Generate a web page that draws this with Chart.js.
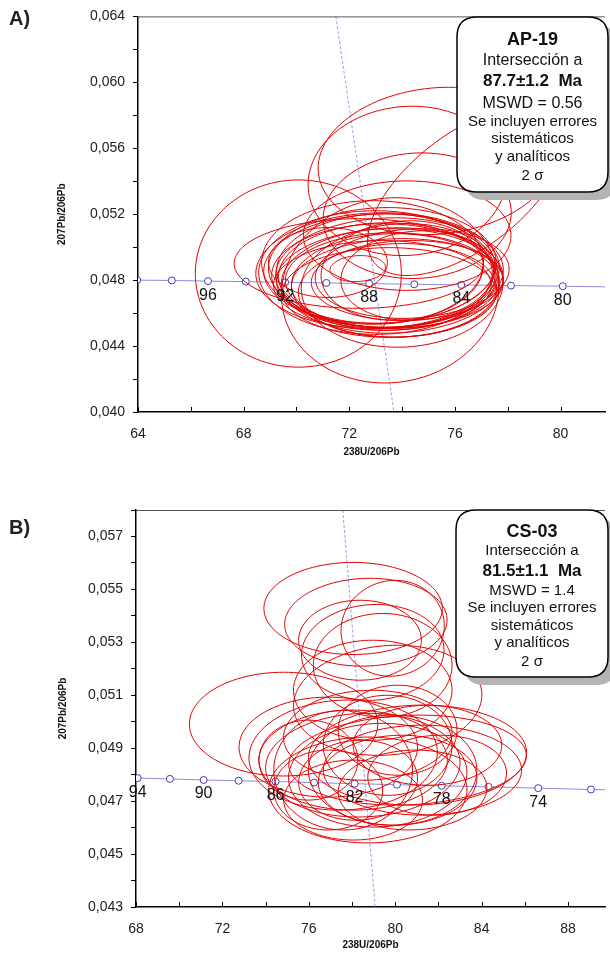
<!DOCTYPE html>
<html lang="es">
<head>
  <meta charset="utf-8">
  <title>Concordia Tera-Wasserburg AP-19 / CS-03</title>
  <script src="https://cdn.jsdelivr.net/npm/chart.js"></script>
  <style>
    body { margin: 0; background: #fff; }
    .wrap { position: relative; width: 610px; height: 954px; overflow: hidden; }
    canvas { position: absolute; left: 0; }
    #chartA { top: 0; }
    #chartB { top: 480px; }
  </style>
</head>
<body>
  <div class="wrap">
    <canvas id="chartA" width="610" height="470"></canvas>
    <canvas id="chartB" width="610" height="474"></canvas>
  </div>

  <script>
    // --- Panel A: AP-19 ---
    const concAgesA = [100, 98, 96, 94, 92, 90, 88, 86, 84, 82, 80, 78];
    const concXA = [63.97, 65.28, 66.65, 68.08, 69.57, 71.13, 72.75, 74.46, 76.24, 78.12, 80.08, 82.15];
    const concYA = [0.04800, 0.04798, 0.04794, 0.04791, 0.04787, 0.04783, 0.04779, 0.04775, 0.04771, 0.04767, 0.04763, 0.04758];
    const ageLabelsA = [96, 92, 88, 84, 80];
    const discXA = [71.49, 73.69];
    const discYA = [0.064, 0.040];

    // elipses de error (centro, semiejes, correlación)
    const ellCxA = [70.07, 73.55, 75.32, 74.19, 74.57, 74.19, 76.44,
      72.36, 73.07, 72.99, 73.14, 73.29, 73.44, 73.63, 73.82, 72.88, 73.25, 73.37, 73.52,
      73.44, 73.63, 73.74, 73.82, 74.00, 73.25, 73.52, 74.19, 74.38, 74.00, 74.57, 72.32, 71.19];
    const ellCyA = [0.04840, 0.04738, 0.05523, 0.05402, 0.05191, 0.05070, 0.05342,
      0.04901, 0.04858, 0.04846, 0.04870, 0.04828, 0.04810, 0.04798, 0.04780, 0.04907, 0.04889, 0.04858, 0.04846,
      0.04822, 0.04798, 0.04768, 0.04738, 0.04768, 0.04768, 0.04725, 0.04798, 0.04840, 0.04858, 0.04828, 0.04870, 0.04907];
    const ellSxA = [3.90, 4.12, 4.50, 3.75, 3.56, 3.93, 3.75,
      4.72, 4.61, 4.42, 4.38, 4.23, 4.20, 4.05, 4.01, 4.20, 4.31, 4.12, 4.31,
      4.12, 4.20, 3.93, 3.75, 3.82, 4.12, 4.05, 3.63, 3.67, 3.07, 2.89, 1.05, 2.25];
    const ellSyA = [0.00568, 0.00562, 0.00447, 0.00453, 0.00381, 0.00332, 0.00514,
      0.00272, 0.00351, 0.00375, 0.00332, 0.00314, 0.00302, 0.00290, 0.00272, 0.00375, 0.00351, 0.00345, 0.00332,
      0.00326, 0.00320, 0.00314, 0.00284, 0.00375, 0.00272, 0.00272, 0.00242, 0.00272, 0.00302, 0.00272, 0.00079, 0.00212];
    const ellRhoA = [0, 0.05, 0.1, 0.05, 0.05, 0, 0.6,
      0, 0.05, 0, 0.05, 0, 0.05, 0, 0.05, 0, 0.05, 0, 0.05,
      0, 0.05, 0, 0.05, 0.05, 0, 0, 0.05, 0.1, 0.1, 0.1, 0.1, 0];
    const boxLinesA = ['AP-19', 'Intersección a', '87.7±1.2  Ma', 'MSWD = 0.56', 'Se incluyen errores', 'sistemáticos', 'y analíticos', '2 σ'];

    // --- Panel B: CS-03 ---
    const concAgesB = [96, 94, 92, 90, 88, 86, 84, 82, 80, 78, 76, 74, 72, 70];
    const concXB = [66.65, 68.08, 69.57, 71.13, 72.75, 74.46, 76.24, 78.12, 80.08, 82.15, 84.32, 86.62, 89.06, 91.60];
    const concYB = [0.04790, 0.04787, 0.04784, 0.04780, 0.04777, 0.04774, 0.04770, 0.04766, 0.04762, 0.04758, 0.04754, 0.04749, 0.04744, 0.04739];
    const ageLabelsB = [94, 90, 86, 82, 78, 74];
    const discXB = [77.57, 79.07];
    const discYB = [0.058, 0.043];

    const ellCxB = [78.05, 78.64, 78.37, 78.96, 79.42, 79.88, 78.96, 79.65, 74.83,
      76.90, 77.59, 78.05, 78.50, 78.73, 79.19, 79.88, 80.57, 81.03, 81.26, 80.11,
      79.65, 78.28, 77.59, 80.80, 81.49, 78.73, 80.11, 78.05, 81.94, 76.90, 75.98];
    const ellCyB = [0.05428, 0.05376, 0.05308, 0.05262, 0.05213, 0.05353, 0.05119, 0.05081, 0.04991,
      0.04904, 0.04874, 0.04855, 0.04836, 0.04742, 0.04798, 0.04817, 0.04855, 0.04874, 0.04817, 0.04779,
      0.04911, 0.04779, 0.04817, 0.04742, 0.04911, 0.04949, 0.04968, 0.04704, 0.04798, 0.04742, 0.04855];
    const ellSxB = [4.13, 3.76, 2.84, 3.30, 3.21, 2.39, 3.67, 4.36, 4.36,
      4.13, 4.36, 4.36, 4.50, 4.59, 4.13, 3.90, 5.50, 5.05, 4.59, 3.67,
      2.98, 2.75, 3.21, 3.44, 3.44, 3.90, 2.75, 3.21, 3.21, 2.52, 2.29];
    const ellSyB = [0.00174, 0.00166, 0.00151, 0.00181, 0.00196, 0.00181, 0.00189, 0.00208, 0.00196,
      0.00189, 0.00208, 0.00189, 0.00196, 0.00200, 0.00196, 0.00208, 0.00170, 0.00189, 0.00170, 0.00170,
      0.00189, 0.00151, 0.00226, 0.00151, 0.00151, 0.00170, 0.00170, 0.00151, 0.00151, 0.00151, 0.00151];
    const ellRhoB = [0, 0.05, 0, 0.05, 0, 0.05, 0, 0.1, 0,
      0, 0.05, 0, 0.05, 0, 0.05, 0, 0.1, 0.05, 0, 0.05,
      0, 0.05, 0, 0.05, 0, 0.05, 0, 0, 0.05, 0, 0];
    const boxLinesB = ['CS-03', 'Intersección a', '81.5±1.1  Ma', 'MSWD = 1.4', 'Se incluyen errores', 'sistemáticos', 'y analíticos', '2 σ'];

    const FONT = '"Liberation Sans", Arial, sans-serif';

    function roundRect(ctx, x, y, w, h, r) {
      ctx.beginPath();
      ctx.moveTo(x + r, y);
      ctx.lineTo(x + w - r, y);
      ctx.quadraticCurveTo(x + w, y, x + w, y + r);
      ctx.lineTo(x + w, y + h - r);
      ctx.quadraticCurveTo(x + w, y + h, x + w - r, y + h);
      ctx.lineTo(x + r, y + h);
      ctx.quadraticCurveTo(x, y + h, x, y + h - r);
      ctx.lineTo(x, y + r);
      ctx.quadraticCurveTo(x, y, x + r, y);
      ctx.closePath();
    }

    // dibuja elipses, etiquetas de edad, recuadro, etc.
    const panelPlugin = {
      id: 'panel',
      afterDatasetsDraw(chart) {
        const p = chart.options.plugins.panel;
        const { ctx, chartArea: a, scales: { x, y } } = chart;
        ctx.save();
        ctx.beginPath();
        ctx.rect(a.left, a.top, a.right - a.left, a.bottom - a.top);
        ctx.clip();
        ctx.strokeStyle = '#e00000';
        ctx.lineWidth = 1;
        for (let i = 0; i < p.cx.length; i++) {
          const r = p.rho[i] || 0;
          const k = Math.sqrt(1 - r * r);
          ctx.beginPath();
          for (let j = 0; j <= 120; j++) {
            const t = j / 120 * 2 * Math.PI;
            const px = x.getPixelForValue(p.cx[i] + p.sx[i] * Math.cos(t));
            const py = y.getPixelForValue(p.cy[i] + p.sy[i] * (r * Math.cos(t) + k * Math.sin(t)));
            if (j === 0) ctx.moveTo(px, py); else ctx.lineTo(px, py);
          }
          ctx.stroke();
        }
        ctx.restore();
        // edades sobre la concordia
        ctx.save();
        ctx.fillStyle = '#111';
        ctx.font = '16px ' + FONT;
        ctx.textAlign = 'center';
        ctx.textBaseline = 'middle';
        p.ageLabels.forEach(age => {
          const i = p.ages.indexOf(age);
          ctx.fillText(String(age), x.getPixelForValue(p.cx0[i]), y.getPixelForValue(p.cy0[i]) + 14);
        });
        ctx.restore();
      },
      afterDraw(chart) {
        const p = chart.options.plugins.panel;
        const { ctx, chartArea: a, scales: { x } } = chart;
        ctx.save();
        // borde superior
        ctx.strokeStyle = '#555';
        ctx.lineWidth = 1;
        ctx.beginPath();
        ctx.moveTo(a.left, a.top + 0.5);
        ctx.lineTo(a.right, a.top + 0.5);
        ctx.stroke();
        // marcas hacia adentro en el eje x
        ctx.strokeStyle = '#000';
        x.ticks.forEach(t => {
          const px = Math.round(x.getPixelForValue(t.value)) + 0.5;
          ctx.beginPath();
          ctx.moveTo(px, a.bottom);
          ctx.lineTo(px, a.bottom - 5);
          ctx.stroke();
        });
        // recuadro con sombra
        const b = p.box;
        ctx.fillStyle = '#b4b4b4';
        roundRect(ctx, b.x + 8, b.y + 8, b.w, b.h, 20);
        ctx.fill();
        ctx.fillStyle = '#fff';
        ctx.strokeStyle = '#000';
        ctx.lineWidth = 1.5;
        roundRect(ctx, b.x, b.y, b.w, b.h, 20);
        ctx.fill();
        ctx.stroke();
        ctx.fillStyle = '#111';
        ctx.textAlign = 'center';
        ctx.textBaseline = 'middle';
        p.lines.forEach((txt, i) => {
          ctx.font = b.fonts[i] + ' ' + FONT;
          ctx.fillText(txt, b.x + b.w / 2, b.y + b.offs[i]);
        });
        // letra del panel
        ctx.font = 'bold 20px ' + FONT;
        ctx.textAlign = 'left';
        ctx.fillStyle = '#222';
        ctx.fillText(p.letter, 9, p.letterY);
        ctx.restore();
      }
    };

    const fmt = v => v.toFixed(3).replace('.', ',');

    function makePanel(id, cfg) {
      const concData = cfg.concX.map((v, i) => ({ x: v, y: cfg.concY[i] }));
      const discData = cfg.discX.map((v, i) => ({ x: v, y: cfg.discY[i] }));
      return new Chart(document.getElementById(id), {
        type: 'scatter',
        data: {
          datasets: [{
            data: discData,
            showLine: true,
            borderColor: '#9a9af0',
            borderWidth: 1,
            borderDash: [3, 2],
            pointRadius: 0
          }, {
            data: concData,
            showLine: true,
            borderColor: '#8a8ae0',
            borderWidth: 1,
            pointRadius: 3.5,
            pointBorderColor: '#3c3cb8',
            pointBorderWidth: 1,
            pointBackgroundColor: '#fff'
          }]
        },
        options: {
          responsive: false,
          animation: false,
          devicePixelRatio: 1,
          layout: { padding: cfg.padding },
          plugins: {
            legend: { display: false },
            tooltip: { enabled: false },
            panel: {
              cx: cfg.ellCx, cy: cfg.ellCy, sx: cfg.ellSx, sy: cfg.ellSy, rho: cfg.ellRho,
              ages: cfg.ages, cx0: cfg.concX, cy0: cfg.concY, ageLabels: cfg.ageLabels,
              lines: cfg.lines, box: cfg.box, letter: cfg.letter, letterY: cfg.letterY
            }
          },
          scales: {
            x: {
              type: 'linear',
              min: cfg.xMin, max: cfg.xMax,
              ticks: {
                stepSize: 2, includeBounds: false, autoSkip: false, maxRotation: 0,
                padding: 14, color: '#222', font: { family: FONT, size: 14 },
                callback: v => (Math.round(v) % 4 === 0 ? String(Math.round(v)) : '')
              },
              grid: { drawOnChartArea: false, drawTicks: false },
              border: { color: '#000', width: 1.5 },
              title: { display: true, text: '238U/206Pb', color: '#111', padding: 0, font: { family: FONT, size: 10, weight: 'bold' } },
              afterFit: s => { s.height = cfg.xAxisH; }
            },
            y: {
              type: 'linear',
              min: cfg.yMin, max: cfg.yMax,
              ticks: {
                stepSize: cfg.yStep, includeBounds: false, autoSkip: false,
                padding: 8, color: '#222', font: { family: FONT, size: 14 },
                callback: v => (cfg.yMajor(Math.round(v * 1000)) ? fmt(v) : '')
              },
              grid: { drawOnChartArea: false, tickLength: 5, tickColor: '#000', tickWidth: 1 },
              border: { color: '#000', width: 1.5 },
              title: { display: true, text: '207Pb/206Pb', color: '#111', padding: 0, font: { family: FONT, size: 10, weight: 'bold' } },
              afterFit: s => { s.width = cfg.yAxisW; }
            }
          }
        },
        plugins: [panelPlugin]
      });
    }

    makePanel('chartA', {
      concX: concXA, concY: concYA, ages: concAgesA, ageLabels: ageLabelsA,
      discX: discXA, discY: discYA,
      ellCx: ellCxA, ellCy: ellCyA, ellSx: ellSxA, ellSy: ellSyA, ellRho: ellRhoA,
      lines: boxLinesA,
      xMin: 64, xMax: 81.68, yMin: 0.040, yMax: 0.064, yStep: 0.002,
      yMajor: m => m % 4 === 0,
      padding: { top: 15, right: 0, bottom: 12, left: 56 },
      xAxisH: 46, yAxisW: 82,
      letter: 'A)', letterY: 19,
      box: {
        x: 457, y: 17, w: 151, h: 175,
        offs: [23, 44, 64, 87, 105, 122, 140, 159],
        fonts: ['bold 18px', '16px', 'bold 17px', '16px', '15px', '15px', '15px', '15px']
      }
    });

    makePanel('chartB', {
      concX: concXB, concY: concYB, ages: concAgesB, ageLabels: ageLabelsB,
      discX: discXB, discY: discYB,
      ellCx: ellCxB, ellCy: ellCyB, ellSx: ellSxB, ellSy: ellSyB, ellRho: ellRhoB,
      lines: boxLinesB,
      xMin: 68, xMax: 89.71, yMin: 0.043, yMax: 0.058, yStep: 0.001,
      yMajor: m => m % 2 === 1,
      padding: { top: 30, right: 0, bottom: 3, left: 57 },
      xAxisH: 44, yAxisW: 79,
      letter: 'B)', letterY: 48,
      box: {
        x: 456, y: 30, w: 152, h: 167,
        offs: [22, 41, 61, 81, 98, 116, 133, 152],
        fonts: ['bold 18px', '15px', 'bold 17px', '15px', '15px', '15px', '15px', '15px']
      }
    });
  </script>
</body>
</html>
